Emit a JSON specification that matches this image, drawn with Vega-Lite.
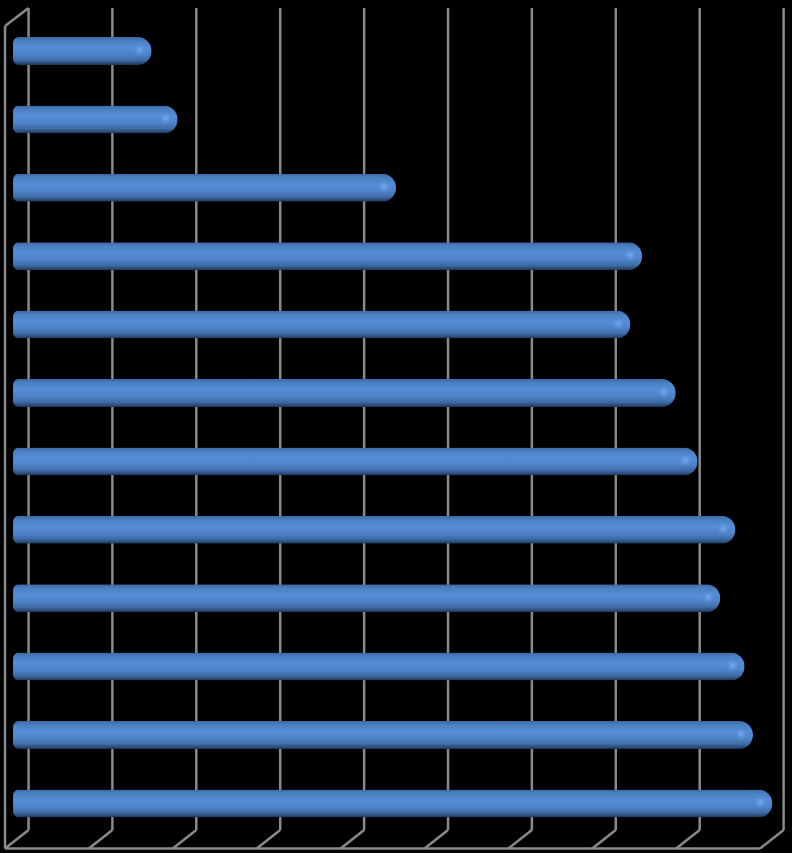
{
"$schema":"https://vega.github.io/schema/vega-lite/v6.json",
"width":792,"height":853,"padding":0,"autosize":{"type":"none"},
"background":"#000000",
"config":{"view":{"stroke":null}},
"datasets":{
"frame":[
{"part":"grid","x":0.185,"x2":0.185,"y":0.371,"y2":12.389},
{"part":"grid","x":1.183,"x2":1.183,"y":0.371,"y2":12.389},
{"part":"grid","x":2.182,"x2":2.182,"y":0.371,"y2":12.389},
{"part":"grid","x":3.181,"x2":3.181,"y":0.371,"y2":12.389},
{"part":"grid","x":4.18,"x2":4.18,"y":0.371,"y2":12.389},
{"part":"grid","x":5.179,"x2":5.179,"y":0.371,"y2":12.389},
{"part":"grid","x":6.177,"x2":6.177,"y":0.371,"y2":12.389},
{"part":"grid","x":7.176,"x2":7.176,"y":0.371,"y2":12.389},
{"part":"grid","x":8.175,"x2":8.175,"y":0.371,"y2":12.389},
{"part":"grid","x":9.174,"x2":9.174,"y":0.371,"y2":12.389},
{"part":"floor","x":0.185,"x2":-0.095,"y":12.389,"y2":12.659},
{"part":"floor","x":1.183,"x2":0.903,"y":12.389,"y2":12.659},
{"part":"floor","x":2.182,"x2":1.902,"y":12.389,"y2":12.659},
{"part":"floor","x":3.181,"x2":2.901,"y":12.389,"y2":12.659},
{"part":"floor","x":4.18,"x2":3.9,"y":12.389,"y2":12.659},
{"part":"floor","x":5.179,"x2":4.899,"y":12.389,"y2":12.659},
{"part":"floor","x":6.177,"x2":5.897,"y":12.389,"y2":12.659},
{"part":"floor","x":7.176,"x2":6.896,"y":12.389,"y2":12.659},
{"part":"floor","x":8.175,"x2":7.895,"y":12.389,"y2":12.659},
{"part":"floor","x":9.174,"x2":8.894,"y":12.389,"y2":12.659},
{"part":"edge","x":-0.095,"x2":8.894,"y":12.659,"y2":12.659},
{"part":"edge","x":-0.095,"x2":-0.095,"y":0.635,"y2":12.659},
{"part":"edge","x":-0.095,"x2":0.185,"y":0.635,"y2":0.371}
],
"bars":[
{"row":1,"value":1.65},{"row":2,"value":1.96},{"row":3,"value":4.56},{"row":4,"value":7.49},
{"row":5,"value":7.35},{"row":6,"value":7.89},{"row":7,"value":8.15},{"row":8,"value":8.6},
{"row":9,"value":8.42},{"row":10,"value":8.71},{"row":11,"value":8.81},{"row":12,"value":9.04}
]},
"layer":[
{"data":{"name":"frame"},
 "mark":{"type":"rule","color":"#8a8a8a","strokeWidth":2.5},
 "encoding":{
  "x":{"field":"x","type":"quantitative","scale":{"domain":[-0.155,9.274],"zero":false,"nice":false,"padding":0},"axis":null},
  "x2":{"field":"x2"},
  "y":{"field":"y","type":"quantitative","scale":{"domain":[0.2544,12.725],"reverse":true,"zero":false,"nice":false,"padding":0},"axis":null},
  "y2":{"field":"y2"}}},
{"data":{"name":"bars"},
 "mark":{"type":"bar","orient":"horizontal","height":28,
  "cornerRadiusTopRight":14,"cornerRadiusBottomRight":14,"cornerRadiusTopLeft":6,"cornerRadiusBottomLeft":6,
  "color":{"gradient":"linear","x1":0,"y1":0,"x2":0,"y2":1,"stops":[
   {"offset":0,"color":"#3d69a4"},{"offset":0.15,"color":"#4c80c3"},{"offset":0.38,"color":"#558dd6"},
   {"offset":0.62,"color":"#4f83c8"},{"offset":0.82,"color":"#3f6ca8"},{"offset":0.94,"color":"#2b4a75"},{"offset":1,"color":"#1d3352"}]}},
 "encoding":{
  "x":{"field":"value","type":"quantitative","scale":{"domain":[-0.155,9.274],"zero":false,"nice":false,"padding":0},"axis":null},
  "y":{"field":"row","type":"quantitative","scale":{"domain":[0.2544,12.725],"reverse":true,"zero":false,"nice":false,"padding":0},"axis":null}}},
{"data":{"name":"bars"},
 "mark":{"type":"point","filled":true,"size":170,"opacity":1,"shape":"circle",
  "fill":{"gradient":"radial","x1":0.5,"y1":0.5,"r1":0,"x2":0.5,"y2":0.5,"r2":0.5,"stops":[
   {"offset":0,"color":"rgba(125,175,242,0.95)"},{"offset":1,"color":"rgba(90,144,216,0)"}]}},
 "encoding":{
  "x":{"field":"value","type":"quantitative","scale":{"domain":[-0.155,9.274],"zero":false,"nice":false,"padding":0},"axis":null},
  "xOffset":{"value":-12},
  "yOffset":{"value":-1},
  "y":{"field":"row","type":"quantitative","scale":{"domain":[0.2544,12.725],"reverse":true,"zero":false,"nice":false,"padding":0},"axis":null}}}
]
}
